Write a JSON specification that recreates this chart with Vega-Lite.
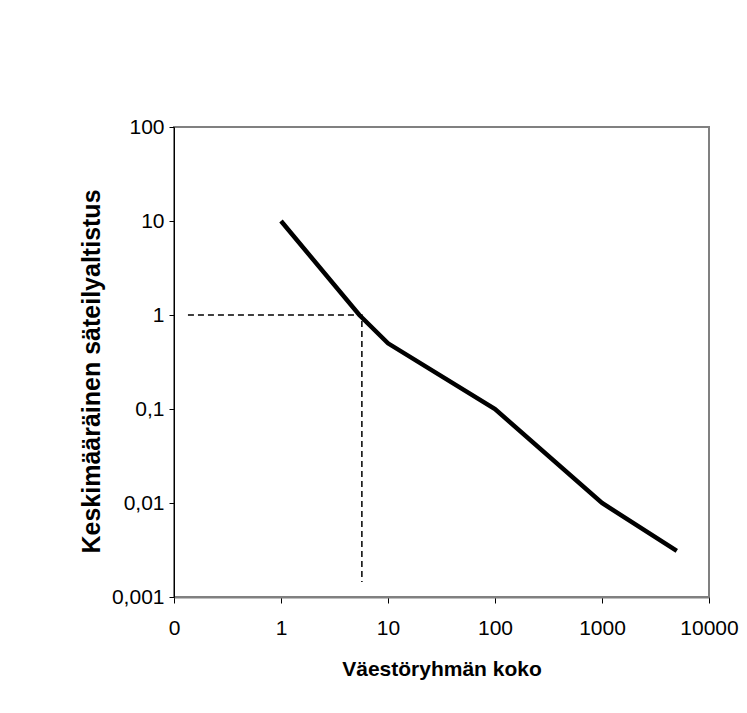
{
  "$schema": "https://vega.github.io/schema/vega-lite/v6.json",
  "autosize": {"type": "none"},
  "width": 535,
  "height": 470,
  "padding": {"left": 174, "top": 127, "right": 38, "bottom": 116},
  "background": "white",
  "config": {
    "font": "Liberation Sans",
    "view": {"stroke": "#808080", "strokeWidth": 2},
    "axis": {"grid": false, "labelFont": "Liberation Sans", "titleFont": "Liberation Sans", "labelColor": "black", "titleColor": "black", "domainColor": "#000000", "tickColor": "#000000", "labelFontSize": 21, "titleFontWeight": "bold"}
  },
  "data": {
    "values": [
      {"series": "curve", "ord": 1, "x": 1, "y": 10},
      {"series": "curve", "ord": 2, "x": 5.4, "y": 1},
      {"series": "curve", "ord": 3, "x": 10, "y": 0.5},
      {"series": "curve", "ord": 4, "x": 100, "y": 0.1},
      {"series": "curve", "ord": 5, "x": 1000, "y": 0.01},
      {"series": "curve", "ord": 6, "x": 5000, "y": 0.0031},
      {"series": "guide", "ord": 1, "x": 0.135, "y": 1},
      {"series": "guide", "ord": 2, "x": 5.7, "y": 1},
      {"series": "guide", "ord": 3, "x": 5.7, "y": 0.00144}
    ]
  },
  "encoding": {
    "x": {
      "field": "x", "type": "quantitative",
      "scale": {"type": "log", "domain": [0.1, 10000], "nice": false},
      "axis": {"values": [0.1, 1, 10, 100, 1000, 10000], "labelExpr": "datum.value < 1 ? '0' : format(datum.value, 'd')", "labelFlush": false, "labelOverlap": false, "tickSize": 6, "labelPadding": 14, "title": "Väestöryhmän koko", "titleFontSize": 21, "titlePadding": 20, "domainColor": "#808080", "domainWidth": 2}
    },
    "y": {
      "field": "y", "type": "quantitative",
      "scale": {"type": "log", "domain": [0.001, 100], "nice": false},
      "axis": {"values": [0.001, 0.01, 0.1, 1, 10, 100], "labelExpr": "replace(toString(datum.value), '.', ',')", "labelFlush": false, "labelOverlap": false, "tickSize": 5, "labelPadding": 5, "title": "Keskimääräinen säteilyaltistus", "titleFontSize": 25, "titlePadding": 7, "titleY": 244, "domainColor": "#000000"}
    },
    "order": {"field": "ord", "type": "quantitative"}
  },
  "layer": [
    {
      "transform": [{"filter": "datum.series === 'guide'"}],
      "mark": {"type": "line", "color": "black", "strokeWidth": 1.5, "strokeDash": [6, 4]}
    },
    {
      "transform": [{"filter": "datum.series === 'curve'"}],
      "mark": {"type": "line", "color": "black", "strokeWidth": 4.5, "strokeJoin": "miter"}
    }
  ]
}
